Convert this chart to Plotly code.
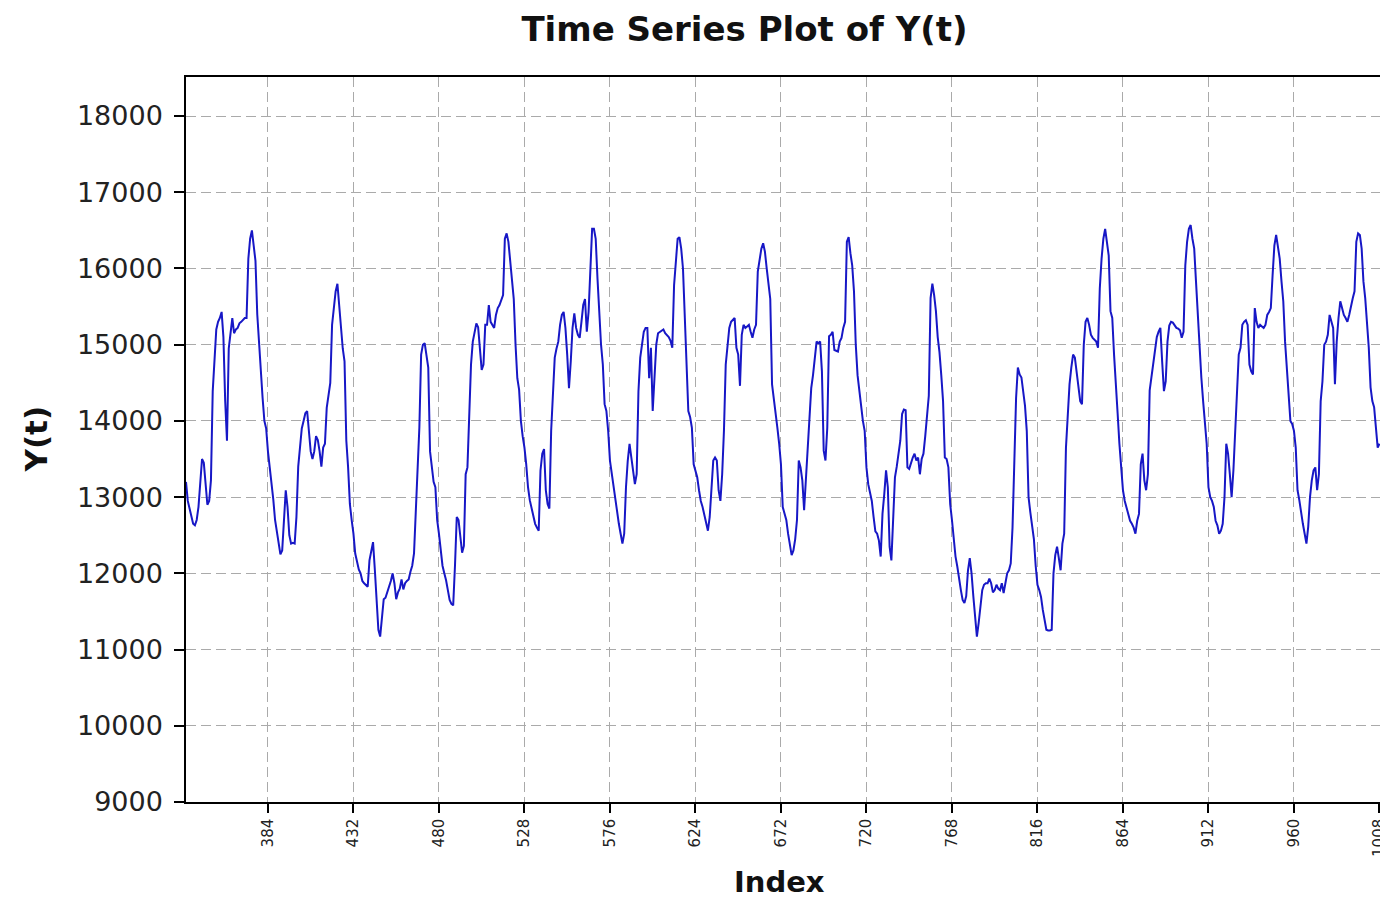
import plotly.graph_objects as go

# Y(t) observations, grouped by tick interval of the index axis (start index 338)
START_INDEX = 338
y_338_383 = [13200, 12950, 12850, 12750, 12650, 12630, 12700, 12870, 13200, 13500,
             13450, 13200, 12900, 12950, 13220, 14390, 14800, 15200, 15300, 15350,
             15430, 15100, 14260, 13740, 14950, 15200, 15350, 15150, 15200, 15220,
             15280, 15300, 15320, 15350, 15350, 16130, 16390, 16500, 16300, 16100,
             15400, 15000, 14700, 14300, 14000, 13900]
y_384_431 = [13600, 13400, 13170, 12970, 12700, 12550, 12350, 12250, 12300, 12800,
             13090, 12870, 12500, 12390, 12400, 12390, 12740, 13400, 13650, 13900,
             14000, 14100, 14130, 13900, 13600, 13500, 13600, 13800, 13750, 13600,
             13400, 13650, 13700, 14170, 14350, 14500, 15260, 15520, 15700, 15800,
             15520, 15200, 14950, 14780, 13740, 13390, 12910, 12700]
y_432_479 = [12520, 12260, 12170, 12050, 12000, 11900, 11870, 11850, 11825, 12170,
             12300, 12410, 12050, 11660, 11260, 11170, 11400, 11660, 11680, 11750,
             11830, 11900, 12000, 11870, 11660, 11750, 11800, 11920, 11790, 11870,
             11900, 11920, 12020, 12100, 12260, 12780, 13390, 13910, 14870, 15000,
             15020, 14850, 14700, 13600, 13350, 13200, 13130, 12700]
y_480_527 = [12520, 12300, 12100, 12000, 11910, 11780, 11650, 11600, 11580, 12100,
             12740, 12700, 12470, 12270, 12360, 13300, 13390, 13980, 14740, 15040,
             15150, 15280, 15230, 14900, 14670, 14740, 15260, 15260, 15520, 15300,
             15250, 15220, 15390, 15480, 15520, 15590, 15650, 16390, 16460, 16350,
             16100, 15830, 15600, 15000, 14560, 14410, 14000, 13800]
y_528_575 = [13650, 13430, 13130, 12960, 12850, 12780, 12650, 12600, 12560, 13350,
             13570, 13630, 13090, 12910, 12850, 13870, 14300, 14830, 14950, 15040,
             15260, 15390, 15430, 15220, 14870, 14430, 14780, 15220, 15410, 15220,
             15130, 15090, 15300, 15520, 15600, 15170, 15430, 15980, 16520, 16520,
             16390, 15870, 15350, 15000, 14740, 14220, 14130, 13870]
y_576_623 = [13480, 13300, 13170, 13000, 12820, 12650, 12520, 12390, 12520, 13130,
             13480, 13700, 13520, 13300, 13170, 13300, 14390, 14830, 15000, 15170,
             15220, 15220, 14560, 14960, 14130, 14520, 15000, 15150, 15170, 15180,
             15200, 15150, 15120, 15100, 15050, 14960, 15780, 16040, 16390, 16410,
             16260, 16000, 15300, 14740, 14130, 14050, 13910, 13430]
y_624_671 = [13350, 13260, 13090, 12950, 12870, 12760, 12650, 12560, 12740, 13090,
             13480, 13520, 13480, 13090, 12950, 13300, 13870, 14740, 15000, 15220,
             15300, 15320, 15350, 14960, 14870, 14460, 15130, 15260, 15220, 15240,
             15260, 15170, 15090, 15200, 15260, 15960, 16100, 16260, 16330, 16220,
             16000, 15800, 15600, 14480, 14260, 14050, 13910, 13700]
y_672_719 = [13430, 12870, 12800, 12700, 12520, 12400, 12240, 12300, 12450, 12700,
             13480, 13390, 13220, 12830, 13260, 13700, 14000, 14430, 14600, 14870,
             15040, 15020, 15040, 14650, 13610, 13480, 13910, 15110, 15130, 15170,
             14930, 14920, 14910, 15040, 15090, 15220, 15300, 16350, 16410, 16200,
             16040, 15700, 15000, 14600, 14390, 14150, 14000, 13870]
y_720_767 = [13390, 13170, 13050, 12950, 12740, 12550, 12520, 12430, 12220, 12780,
             13040, 13350, 13130, 12350, 12170, 12780, 13260, 13400, 13570, 13740,
             14090, 14150, 14140, 13390, 13370, 13450, 13520, 13570, 13480, 13520,
             13300, 13500, 13570, 13800, 14050, 14330, 15610, 15800, 15650, 15440,
             15100, 14900, 14600, 14260, 13520, 13500, 13390, 12910]
y_768_815 = [12700, 12450, 12220, 12090, 11900, 11780, 11650, 11610, 11700, 12040,
             12200, 12000, 11700, 11450, 11170, 11350, 11560, 11780, 11850, 11870,
             11870, 11930, 11870, 11750, 11780, 11850, 11800, 11780, 11870, 11740,
             11870, 12000, 12040, 12130, 12600, 13500, 14300, 14700, 14610, 14570,
             14350, 14200, 13870, 13000, 12800, 12650, 12450, 12100]
y_816_863 = [11850, 11780, 11690, 11520, 11390, 11260, 11250, 11250, 11260, 12000,
             12240, 12350, 12200, 12040, 12390, 12520, 13650, 14090, 14480, 14700,
             14870, 14830, 14650, 14450, 14260, 14220, 15000, 15300, 15350, 15260,
             15130, 15090, 15060, 15040, 14960, 15740, 16130, 16390, 16520, 16350,
             16170, 15440, 15350, 14870, 14400, 14100, 13700, 13350]
y_864_911 = [13090, 12950, 12850, 12780, 12690, 12650, 12600, 12520, 12690, 12780,
             13430, 13570, 13220, 13090, 13300, 14400, 14570, 14740, 14960, 15100,
             15170, 15220, 14780, 14390, 14520, 15040, 15250, 15300, 15290, 15260,
             15220, 15210, 15190, 15090, 15170, 16040, 16350, 16520, 16570, 16390,
             16260, 15830, 15390, 14870, 14570, 14260, 13960, 13700]
y_912_959 = [13130, 13000, 12950, 12870, 12690, 12630, 12520, 12560, 12650, 13000,
             13700, 13570, 13300, 13000, 13350, 13830, 14390, 14870, 14960, 15260,
             15300, 15320, 15260, 14740, 14650, 14610, 15480, 15300, 15220, 15260,
             15240, 15220, 15260, 15390, 15430, 15480, 15910, 16300, 16440, 16260,
             16130, 15830, 15570, 15040, 14700, 14390, 14000, 13960]
y_960_1008 = [13870, 13650, 13090, 12960, 12780, 12650, 12520, 12390, 12610, 13000,
              13220, 13350, 13390, 13090, 13300, 14260, 14520, 15000, 15040, 15130,
              15390, 15300, 15220, 14480, 15040, 15350, 15570, 15480, 15390, 15350,
              15300, 15390, 15520, 15610, 15700, 16350, 16460, 16440, 16260, 15830,
              15610, 15260, 14960, 14440, 14260, 14180, 13910, 13650, 13700]

segments = [y_338_383, y_384_431, y_432_479, y_480_527, y_528_575, y_576_623,
            y_624_671, y_672_719, y_720_767, y_768_815, y_816_863, y_864_911,
            y_912_959, y_960_1008]
y_values = [v for seg in segments for v in seg]
x_index = list(range(START_INDEX, START_INDEX + len(y_values)))

x_tickvals = list(range(384, 1009, 48))
y_tickvals = list(range(9000, 18001, 1000))

FONT = "DejaVu Sans"

fig = go.Figure()
fig.add_trace(go.Scatter(
    x=x_index, y=y_values, mode="lines",
    line=dict(color="#1717c6", width=2),
    showlegend=False, hoverinfo="x+y",
))

fig.update_layout(
    width=1380, height=900,
    margin=dict(l=186, r=0, t=77, b=98, autoexpand=False),
    paper_bgcolor="white", plot_bgcolor="white",
    title=dict(
        text="<b>Time Series Plot of Y(t)</b>",
        font=dict(family=FONT, size=34, color="#111111"),
        x=744.5 / 1380, xref="container", xanchor="center",
        y=1 - 29 / 900, yref="container", yanchor="middle",
    ),
    font=dict(family=FONT, color="#111111"),
)

fig.update_xaxes(
    range=[START_INDEX, 1008.3], automargin=False,
    tickmode="array", tickvals=x_tickvals,
    ticktext=[str(v) for v in x_tickvals],
    tickangle=-90, tickfont=dict(family=FONT, size=15, color="#222222"),
    ticklabeloverflow="allow",
    ticks="outside", ticklen=9, tickwidth=1.5, tickcolor="black",
    showline=True, linecolor="black", linewidth=1.5, mirror=True,
    showgrid=True, gridcolor="#aaaaaa", gridwidth=1, griddash="10px,5px",
    zeroline=False,
)
fig.update_yaxes(
    range=[9000, 18512], automargin=False,
    tickmode="array", tickvals=y_tickvals,
    ticktext=[str(v) for v in y_tickvals],
    tickfont=dict(family=FONT, size=27, color="#222222"),
    ticks="outside", ticklen=10, tickwidth=1.5, tickcolor="black",
    ticklabelstandoff=6,
    showline=True, linecolor="black", linewidth=1.5, mirror=False,
    showgrid=True, gridcolor="#aaaaaa", gridwidth=1, griddash="10px,5px",
    zeroline=False,
)

# Axis titles placed as annotations
fig.add_annotation(
    text="<b>Index</b>", xref="paper", yref="paper",
    x=(779 - 186) / 1194, y=(802 - 882) / 725,
    xanchor="center", yanchor="middle", showarrow=False,
    font=dict(family=FONT, size=29, color="#111111"),
)
fig.add_annotation(
    text="<b>Y(t)</b>", xref="paper", yref="paper",
    x=(35 - 186) / 1194, y=0.5, textangle=-90,
    xanchor="center", yanchor="middle", showarrow=False,
    font=dict(family=FONT, size=31, color="#111111"),
)

fig.write_html("out.html")
